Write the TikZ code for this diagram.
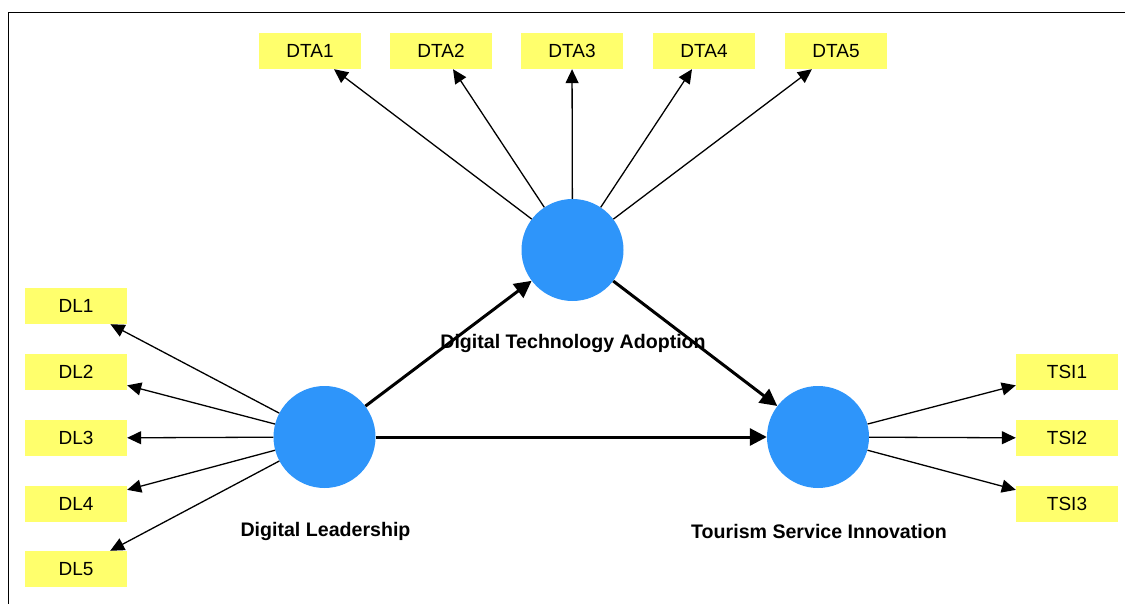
\documentclass[tikz,border=0pt]{standalone}
\usepackage{fontspec}
\setmainfont{Liberation Sans}
\usetikzlibrary{arrows.meta}
\definecolor{boxyellow}{RGB}{255,255,108}
\definecolor{lvblue}{RGB}{46,149,250}
\begin{document}
\begin{tikzpicture}[x=1pt,y=-1pt,
  ind/.style={fill=boxyellow,draw=none,minimum width=102pt,minimum height=36pt,inner sep=0pt,font=\fontsize{19}{21}\selectfont},
  lv/.style={circle,fill=lvblue,draw=none,minimum size=102pt,inner sep=0pt},
  lvlabel/.style={font=\fontsize{19.6}{22}\selectfont\bfseries},
  thin/.style={line width=1.3pt,-{Triangle[length=14pt,width=13pt]}},
  thick/.style={line width=3pt,-{Triangle[length=17pt,width=17pt]}},
  frame/.style={line width=1.5pt}]
\useasboundingbox (0,0) rectangle (1125,604);
\coordinate (ftl) at (8.5,12.5);
\coordinate (ftr) at (1126,12.5);
\coordinate (fbl) at (8.5,605);
\draw[frame] (fbl) -- (ftl) -- (ftr);

\node[lv] (DTA) at (572.5,250) {};
\node[lv] (DL) at (324.5,437) {};
\node[lv] (TSI) at (818,437) {};

\node[lvlabel] (lDTA) at (573,343) {Digital Technology Adoption};
\node[lvlabel] (lDL) at (325.5,531) {Digital Leadership};
\node[lvlabel] (lTSI) at (819,531) {Tourism Service Innovation};

\node[ind] (DTA1) at (310,51) {DTA1};
\node[ind] (DTA2) at (441,51) {DTA2};
\node[ind] (DTA3) at (572,51) {DTA3};
\node[ind] (DTA4) at (704,51) {DTA4};
\node[ind] (DTA5) at (836,51) {DTA5};

\node[ind] (DL1) at (76,306) {DL1};
\node[ind] (DL2) at (76,372) {DL2};
\node[ind] (DL3) at (76,438) {DL3};
\node[ind] (DL4) at (76,503.5) {DL4};
\node[ind] (DL5) at (76,569) {DL5};

\node[ind] (TSI1) at (1067,372) {TSI1};
\node[ind] (TSI2) at (1067,438) {TSI2};
\node[ind] (TSI3) at (1067,503.5) {TSI3};

\foreach \i in {1,...,5} {\draw[thin] (DTA) -- (DTA\i);}
\foreach \i in {1,...,5} {\draw[thin] (DL) -- (DL\i);}
\foreach \i in {1,2,3} {\draw[thin] (TSI) -- (TSI\i);}

\draw[thick] (DL) -- (DTA);
\draw[thick] (DTA) -- (TSI);
\draw[thick] (DL) -- (TSI);
\end{tikzpicture}
\end{document}
